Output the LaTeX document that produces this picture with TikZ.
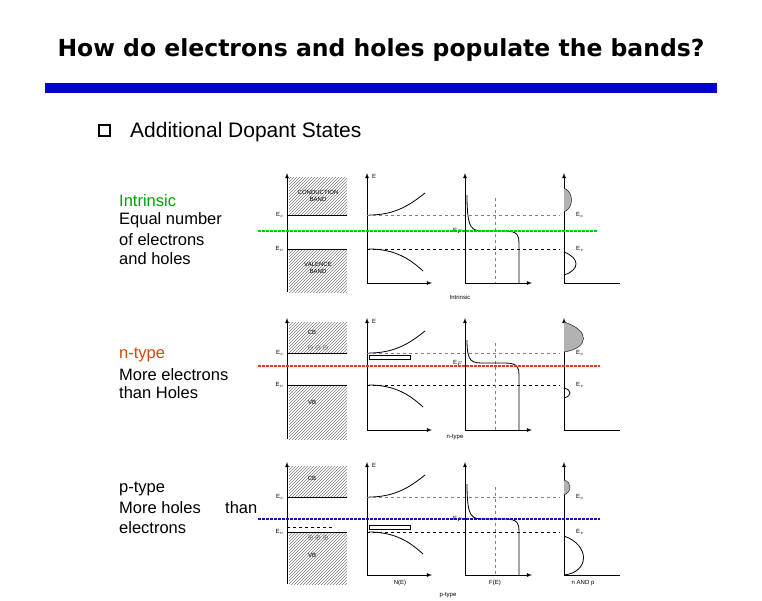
\documentclass[tikz,border=0pt]{standalone}
\usepackage{fontspec}
\setmainfont{Liberation Sans}
\newfontfamily\titlefont{DejaVu Sans}
\usetikzlibrary{patterns}
\definecolor{barblue}{RGB}{0,0,204}
\definecolor{igreen}{RGB}{0,200,0}
\definecolor{nred}{RGB}{210,70,20}
\definecolor{pblue}{RGB}{20,20,160}
\tikzset{ax/.style={thick,->,>=latex},lbl/.style={font=\fontsize{6}{6}\selectfont,inner sep=1pt},
 dotl/.style={line width=2.5pt,dash pattern=on 2.5pt off 1.5pt},
 side/.style={font=\fontsize{16.5}{19}\selectfont,anchor=west,inner sep=0pt}}
\newcommand{\bandrow}[6]{% T B Ec Ev Ef type
 \draw[ax] (287,#2+9) -- (287,#1);
 \fill[pattern=north east lines,pattern color=gray] (289,#1+4) rectangle (347,#3);
 \fill[pattern=north east lines,pattern color=gray] (289,#4) rectangle (347,#2+9);
 \draw[thick] (287,#3) -- (347,#3);
 \draw[thick] (287,#4) -- (347,#4);
 \node[lbl,anchor=east] at (285,#3) {E$_c$};
 \node[lbl,anchor=east] at (285,#4) {E$_v$};
 \draw[ax] (367,#2) -- (367,#1);
 \draw[ax] (367,#2) -- (432,#2);
 \node[lbl] at (374,#1+3) {E};
 \draw[thick] (369,#3) .. controls (395,#3) and (410,#3-10) .. (425,#3-22);
 \draw[thick] (369,#4) .. controls (395,#4) and (410,#4+10) .. (423,#4+22);
 \draw[dashed,gray] (367,#3) -- (560,#3);
 \draw[thick,dashed] (367,#4) -- (560,#4);
 \draw[ax] (465,#2) -- (465,#1);
 \draw[ax] (465,#2) -- (532,#2);
 \draw[dashed,gray] (495,#1+25) -- (495,#2);
 \draw[thick] (467,#1+22) .. controls (467,#5) and (472,#5) .. (485,#5) -- (505,#5) .. controls (518,#5) and (519,#5+5) .. (519,#5+12) -- (519,#2);
 \node[lbl,anchor=east] at (464,#5) {E$_F$};
 \draw[ax] (564,#2) -- (564,#1);
 \draw[thick] (564,#2) -- (620,#2);
 \node[lbl,anchor=west] at (575,#3) {E$_c$};
 \node[lbl,anchor=west] at (575,#4) {E$_v$};
}
\begin{document}
\begin{tikzpicture}[x=1pt,y=-1pt]
\useasboundingbox (0,0) rectangle (762,600);
\node[font=\titlefont\bfseries\fontsize{23.5}{26}\selectfont] (title) at (381,50) {How do electrons and holes populate the bands?};
\fill[barblue] (45,83) rectangle (717,93);
\draw[line width=1.5pt] (99,125) rectangle (110,136);
\node[side,font=\fontsize{21}{23}\selectfont] (bul) at (130,132) {Additional Dopant States};
\node[side,text=igreen!80!black] (il) at (119,201) {Intrinsic};
\node[side] (it1) at (119,220) {Equal number};
\node[side] (it2) at (119,240) {of electrons};
\node[side] (it3) at (119,259) {and holes};
\node[side,text=nred] (nl) at (119,355) {n-type};
\node[side] (nt1) at (119,375) {More electrons};
\node[side] (nt2) at (119,393) {than Holes};
\node[side] (pl) at (119,489) {p-type};
\node[side] (pt) at (119,508) {More holes};
\node[side] (pt3) at (225,508) {than};
\node[side] (pt2) at (119,528) {electrons};
\bandrow{173}{283}{215}{249}{231}{1}
\bandrow{318}{430}{353}{385}{363}{2}
\bandrow{462}{575}{497}{532}{519}{3}
\fill[gray!60,draw=black] (564,188) .. controls (574,192) and (574,208) .. (564,212);
\draw[thick] (564,252) .. controls (580,258) and (580,270) .. (564,275);
\node[lbl] at (460,297) {Intrinsic};
\node[lbl] at (318,192) {CONDUCTION};\node[lbl] at (318,199) {BAND};
\node[lbl] at (318,264) {VALENCE};\node[lbl] at (318,271) {BAND};
\fill[gray!60,draw=black] (564,322) .. controls (590,330) and (590,348) .. (564,352);
\draw[thick] (564,388) .. controls (572,390) and (572,396) .. (564,398);
\draw[thick] (369,355) rectangle (410,359);
\node[lbl] at (312,332) {CB};\node[lbl] at (312,402) {VB};
\node[lbl] at (318,348) {$\ominus\ominus\ominus$};
\node[lbl] at (455,437) {n-type};
\fill[gray!60,draw=black] (564,480) .. controls (572,482) and (572,492) .. (564,495);
\draw[thick] (564,536) .. controls (590,545) and (590,572) .. (564,575);
\draw[thick] (369,525) rectangle (410,529);
\draw[dashed,thick] (287,527) -- (335,527);
\node[lbl] at (312,478) {CB};\node[lbl] at (312,555) {VB};
\node[lbl] at (318,538) {$\oplus\oplus\oplus$};
\node[lbl] at (400,583) {N(E)};\node[lbl] at (495,583) {F(E)};\node[lbl] at (583,583) {n AND p};
\node[lbl] at (448,595) {p-type};
\draw[dotl,igreen] (258,231) -- (598,231);
\draw[dotl,nred] (258,366) -- (600,366);
\draw[dotl,pblue] (258,519) -- (600,519);
\end{tikzpicture}
\end{document}
